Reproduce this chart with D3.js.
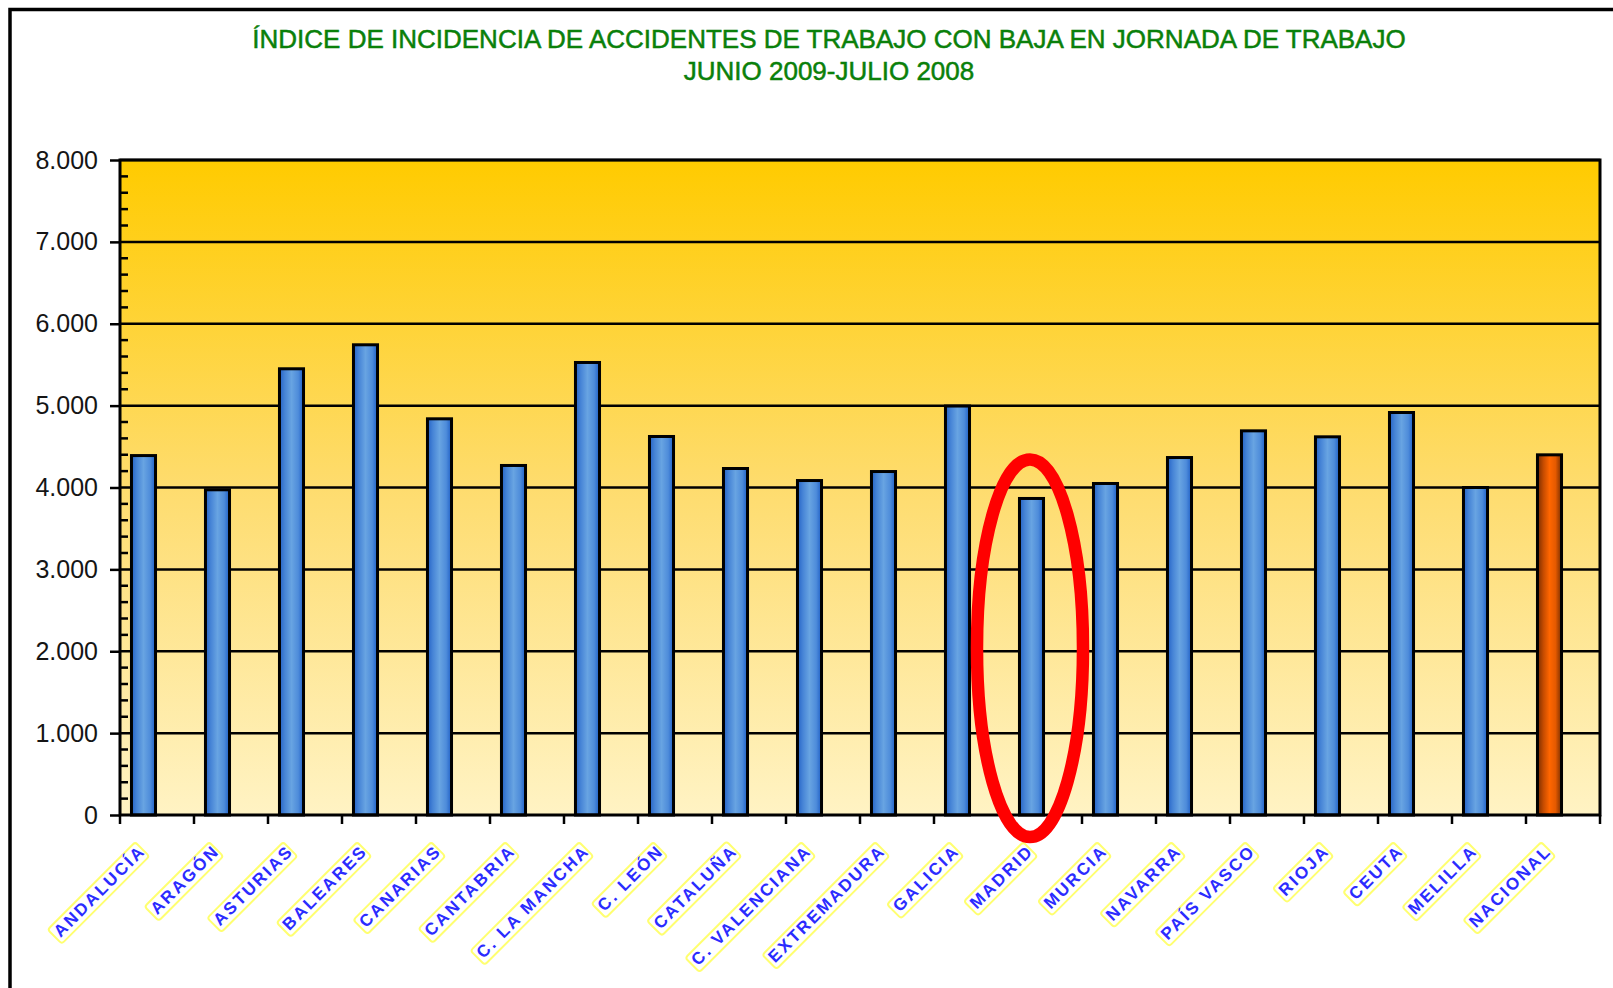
<!DOCTYPE html>
<html>
<head>
  <meta charset="UTF-8">
  <title>Índice de incidencia de accidentes de trabajo</title>
  <script src="https://d3js.org/d3.v7.min.js"></script>
  <style>
    body { margin: 0; background: #fff; }
    svg { display: block; }
    .title { font-family: Arial, "Liberation Sans", sans-serif; font-size: 26px; fill: #0a800a;
             stroke: #0a800a; stroke-width: 0.5px; }
    .y-label { font-family: Arial, "Liberation Sans", sans-serif; font-size: 25px; fill: #151515; }
    .x-label { font-family: Arial, "Liberation Sans", sans-serif; font-size: 17px; font-weight: bold;
               fill: #2b2bff; letter-spacing: 2.3px; }
  </style>
</head>
<body>
  <svg width="1613" height="988"></svg>

  <script>
    const categories = ["ANDALUCÍA", "ARAGÓN", "ASTURIAS", "BALEARES", "CANARIAS", "CANTABRIA",
      "C. LA MANCHA", "C. LEÓN", "CATALUÑA", "C. VALENCIANA", "EXTREMADURA", "GALICIA",
      "MADRID", "MURCIA", "NAVARRA", "PAÍS VASCO", "RIOJA", "CEUTA", "MELILLA", "NACIONAL"];
    const values = [4390, 3972, 5450, 5743, 4839, 4269, 5527, 4623, 4232, 4085, 4195, 4995,
      3866, 4049, 4366, 4692, 4619, 4916, 4000, 4399];
    const yTicks = [0, 1000, 2000, 3000, 4000, 5000, 6000, 7000, 8000];
    const titleLines = ["ÍNDICE DE INCIDENCIA DE ACCIDENTES DE TRABAJO CON BAJA EN JORNADA DE TRABAJO",
      "JUNIO 2009-JULIO 2008"];
    const highlighted = "MADRID";
    const totalLabel = "NACIONAL";

    const svg = d3.select("svg");
    const plot = { left: 120, right: 1600, top: 160, bottom: 815 };

    const fmt = d3.formatLocale({ decimal: ",", thousands: ".", grouping: [3], currency: ["", ""] }).format(",d");

    const x = d3.scaleBand()
      .domain(categories)
      .range([plot.left, plot.right])
      .padding(0);

    const y = d3.scaleLinear()
      .domain([0, 8000])
      .range([plot.bottom, plot.top]);

    const defs = svg.append("defs");

    const bg = defs.append("linearGradient").attr("id", "bg")
      .attr("x1", 0).attr("y1", 0).attr("x2", 0).attr("y2", 1);
    bg.append("stop").attr("offset", 0).attr("stop-color", "#ffcb00");
    bg.append("stop").attr("offset", 0.5).attr("stop-color", "#fedc6e");
    bg.append("stop").attr("offset", 1).attr("stop-color", "#fff3c4");

    const blue = defs.append("linearGradient").attr("id", "blue")
      .attr("x1", 0).attr("y1", 0).attr("x2", 1).attr("y2", 0);
    [[0, "#2462c6"], [0.22, "#4684d6"], [0.5, "#68a4e2"], [0.78, "#4e8cda"], [1, "#1d5ec6"]]
      .forEach(s => blue.append("stop").attr("offset", s[0]).attr("stop-color", s[1]));

    const orange = defs.append("linearGradient").attr("id", "orange")
      .attr("x1", 0).attr("y1", 0).attr("x2", 1).attr("y2", 0);
    [[0, "#7a2e00"], [0.25, "#c64c00"], [0.5, "#ff6600"], [0.75, "#e55a00"], [1, "#7a2e00"]]
      .forEach(s => orange.append("stop").attr("offset", s[0]).attr("stop-color", s[1]));

    // outer frame (runs off right and bottom edges)
    svg.append("rect")
      .attr("x", 10).attr("y", 9.5)
      .attr("width", 1800).attr("height", 1200)
      .attr("fill", "none").attr("stroke", "#000").attr("stroke-width", 3.5);

    // title
    svg.selectAll(".title")
      .data(titleLines)
      .enter()
      .append("text")
      .attr("class", "title")
      .attr("x", 829)
      .attr("y", (d, i) => 48 + i * 32)
      .attr("text-anchor", "middle")
      .text(d => d);

    // plot background
    svg.append("rect")
      .attr("x", plot.left).attr("y", plot.top)
      .attr("width", plot.right - plot.left).attr("height", plot.bottom - plot.top)
      .attr("fill", "url(#bg)");

    // grid lines
    svg.selectAll(".grid")
      .data(yTicks.slice(1))
      .enter()
      .append("line")
      .attr("x1", plot.left).attr("x2", plot.right)
      .attr("y1", d => y(d)).attr("y2", d => y(d))
      .attr("stroke", "#000").attr("stroke-width", 2.5);

    // minor ticks inside the plot every 200
    const minor = d3.range(200, 8000, 200).filter(v => v % 1000 !== 0);
    svg.selectAll(".minor")
      .data(minor)
      .enter()
      .append("line")
      .attr("x1", plot.left).attr("x2", plot.left + 8)
      .attr("y1", d => y(d)).attr("y2", d => y(d))
      .attr("stroke", "#000").attr("stroke-width", 2.5);

    // bars
    const bw = x.bandwidth();
    svg.selectAll(".bar")
      .data(categories.map((c, i) => ({ c, v: values[i] })))
      .enter()
      .append("rect")
      .attr("x", d => x(d.c) + bw * 0.155)
      .attr("width", bw * 0.325)
      .attr("y", d => y(d.v))
      .attr("height", d => y(0) - y(d.v))
      .attr("fill", d => d.c === totalLabel ? "url(#orange)" : "url(#blue)")
      .attr("stroke", "#000").attr("stroke-width", 3);

    // plot border
    svg.append("rect")
      .attr("x", plot.left).attr("y", plot.top)
      .attr("width", plot.right - plot.left).attr("height", plot.bottom - plot.top)
      .attr("fill", "none").attr("stroke", "#000").attr("stroke-width", 3);

    // y axis
    const yAxis = svg.append("g")
      .attr("transform", `translate(${plot.left},0)`)
      .call(d3.axisLeft(y).tickValues(yTicks).tickFormat(fmt).tickSize(10).tickPadding(12));
    yAxis.select(".domain").remove();
    yAxis.selectAll(".tick line").attr("stroke", "#000").attr("stroke-width", 2.5);
    yAxis.selectAll(".tick text").attr("class", "y-label").attr("font-size", null).attr("font-family", null);

    // x axis ticks at category boundaries
    const bounds = categories.map(c => x(c)).concat([plot.right]);
    svg.selectAll(".xtick")
      .data(bounds)
      .enter()
      .append("line")
      .attr("x1", d => d).attr("x2", d => d)
      .attr("y1", plot.bottom).attr("y2", plot.bottom + 9)
      .attr("stroke", "#000").attr("stroke-width", 2.5);

    // rotated category labels with yellow box
    const labels = svg.selectAll(".xl")
      .data(categories)
      .enter()
      .append("g")
      .attr("transform", d => `translate(${x(d) + bw * 0.155 + bw * 0.1625 + 3},${plot.bottom + 37}) rotate(-45)`);

    labels.append("text")
      .attr("class", "x-label")
      .attr("text-anchor", "end")
      .text(d => d);

    labels.each(function () {
      const g = d3.select(this);
      const b = g.select("text").node().getBBox();
      g.insert("rect", "text")
        .attr("x", b.x - 3).attr("y", b.y)
        .attr("width", b.width + 2).attr("height", b.height + 1)
        .attr("rx", 3)
        .attr("fill", "#fff")
        .attr("stroke", "#ffff70").attr("stroke-width", 2);
    });

    // red ellipse highlighting one region
    const hi = categories.indexOf(highlighted);
    svg.append("ellipse")
      .attr("cx", x(highlighted) + bw * 0.155 + bw * 0.1625 - 1.5)
      .attr("cy", (y(values[hi]) - 39 + y(0) + 22) / 2)
      .attr("rx", 53)
      .attr("ry", (y(0) + 22 - (y(values[hi]) - 39)) / 2)
      .attr("fill", "none")
      .attr("stroke", "#ff0000")
      .attr("stroke-width", 12.5);
  </script>
</body>
</html>
